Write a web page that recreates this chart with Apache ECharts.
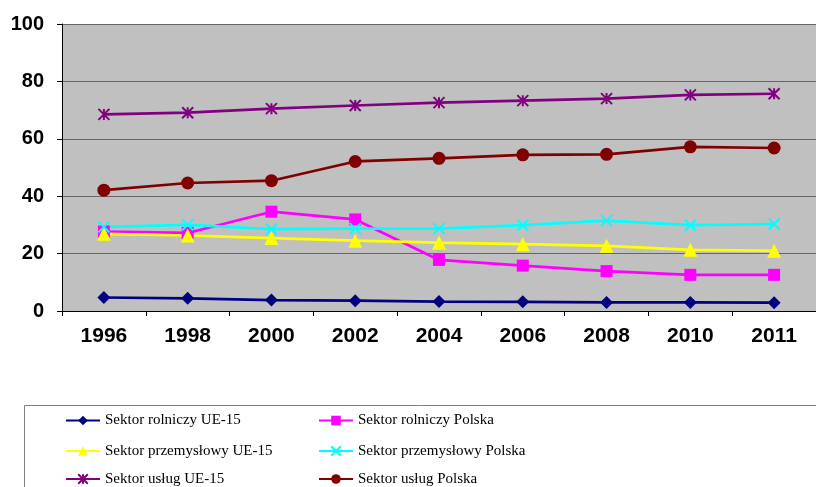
<!DOCTYPE html>
<html><head><meta charset="utf-8">
<script src="https://cdn.jsdelivr.net/npm/echarts@6/dist/echarts.min.js"></script>
<style>html,body{margin:0;padding:0;background:#fff}#c{width:816px;height:487px}</style>
</head><body><div id="c"></div>
<script>
const years = ['1996','1998','2000','2002','2004','2006','2008','2010','2011'];
const yTicks = [0,20,40,60,80,100];
const rolniczyUE = [4.7,4.4,3.8,3.6,3.3,3.2,3.0,3.0,2.9];
const rolniczyPL = [27.7,27.2,34.6,31.9,17.8,15.8,13.9,12.6,12.6];
const przemUE = [26.9,26.3,25.4,24.5,23.8,23.3,22.7,21.3,21.0];
const przemPL = [29.3,30.0,28.5,28.7,28.7,29.9,31.5,29.9,30.3];
const uslugUE = [68.5,69.1,70.5,71.6,72.6,73.3,74.0,75.3,75.7];
const uslugPL = [42.1,44.6,45.4,52.1,53.2,54.4,54.6,57.2,56.8];
const names = ['Sektor rolniczy UE-15','Sektor rolniczy Polska','Sektor przemysłowy UE-15','Sektor przemysłowy Polska','Sektor usług UE-15','Sektor usług Polska'];

const ASTER = 'path://M0,0L10,10M10,0L0,10M5,0L5,10';
const CROSS = 'path://M0,0L10,10M10,0L0,10';

function ser(name, data, color, symbol, size, stroke) {
  const s = {
    name, type:'line', data, color, symbol, symbolSize:size,
    lineStyle:{width:2.7,color}, itemStyle:{color},
    showAllSymbol:true, animation:false
  };
  if (stroke) { s.itemStyle = {color:'transparent', borderColor:color, borderWidth:2}; }
  return s;
}
const chart = echarts.init(document.getElementById('c'));
const legendText = {fontFamily:'Liberation Serif', fontSize:15, color:'#000'};
const colX = [65, 318];
const rowTop = [413, 443.5, 471.5];
const legends = names.map((n, i) => ({
  data:[n], orient:'horizontal', left:colX[i % 2], top:rowTop[Math.floor(i / 2)],
  itemWidth:34, itemHeight:12, textStyle:legendText, padding:0
}));
chart.setOption({
  animation:false,
  grid:{left:62, top:24, width:759, height:287, backgroundColor:'#C0C0C0', show:true, borderWidth:0},
  xAxis:{type:'category', data:years, boundaryGap:true,
    axisLine:{lineStyle:{color:'#000',width:1}},
    axisTick:{show:true,length:5,lineStyle:{color:'#000'}},
    axisLabel:{fontFamily:'Liberation Sans',fontWeight:'bold',fontSize:21,color:'#000',margin:15}},
  yAxis:{type:'value', min:yTicks[0], max:yTicks[yTicks.length-1], interval:20,
    axisLine:{show:true,lineStyle:{color:'#000',width:1}},
    axisTick:{show:true,length:5,lineStyle:{color:'#000'}},
    splitLine:{lineStyle:{color:'#666666',width:1}},
    axisLabel:{fontFamily:'Liberation Sans',fontWeight:'bold',fontSize:20,color:'#000',margin:18}},
  legend:legends,
  graphic:[{type:'rect', shape:{x:24.5,y:405.5,width:800,height:100}, style:{fill:'none',stroke:'#808080',lineWidth:1}, silent:true}],
  series:[
    ser(names[0], rolniczyUE, '#000080', 'diamond', 13),
    ser(names[1], rolniczyPL, '#FF00FF', 'rect', 12),
    ser(names[2], przemUE, '#FFFF00', 'triangle', 14),
    ser(names[3], przemPL, '#00FFFF', CROSS, 11, true),
    ser(names[4], uslugUE, '#800080', ASTER, 11, true),
    ser(names[5], uslugPL, '#800000', 'circle', 13)
  ]
});
</script></body></html>
